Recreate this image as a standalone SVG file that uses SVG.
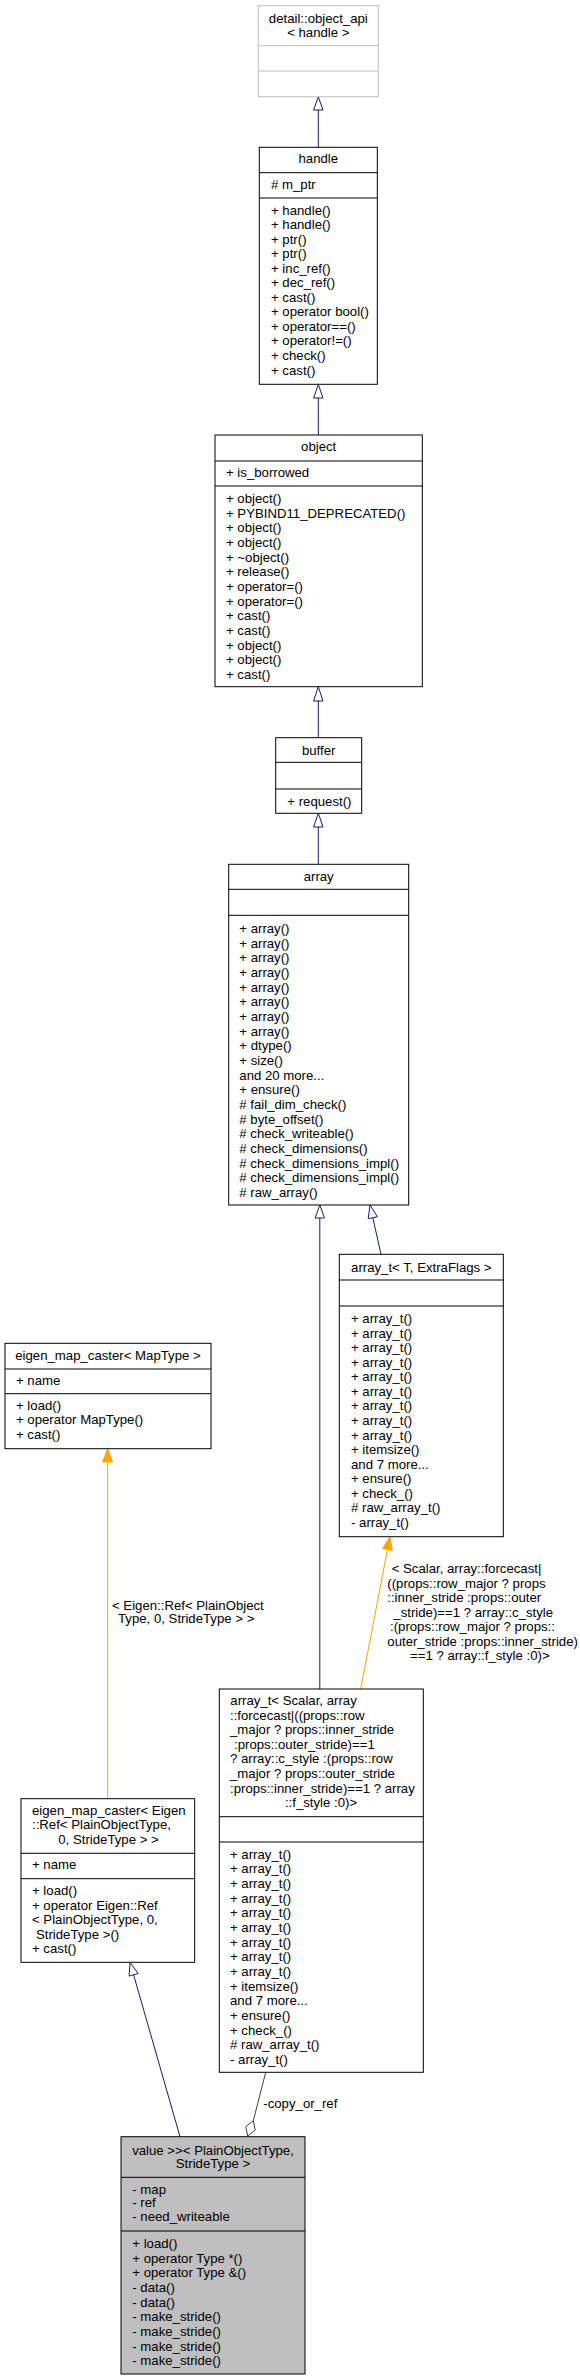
<svg xmlns="http://www.w3.org/2000/svg" width="580" height="2380" viewBox="0 0 580 2380">
<style>
text{font-family:"Liberation Sans",Arial,sans-serif;font-size:13.2px;fill:#000}
.box{fill:#fff;stroke:#000;stroke-width:1}
.gbox{fill:#fff;stroke:#bfbfbf;stroke-width:1}
.sel{fill:#bfbfbf;stroke:#000;stroke-width:1}
.div{stroke:#000;stroke-width:1}
.gdiv{stroke:#bfbfbf;stroke-width:1}
.mid{text-anchor:middle}
.inh{stroke:#191970;stroke-width:1;fill:none}
.inhh{fill:#fff;stroke:#191970;stroke-width:1}
.tpl{stroke:#ffa500;stroke-width:1;fill:none}
.tplh{fill:#ffa500;stroke:#ffa500;stroke-width:1}
.use{stroke:#404040;stroke-width:1;fill:none}
.useh{fill:#fff;stroke:#404040;stroke-width:1}
</style>
<rect width="580" height="2380" fill="#fff"/>

<g id="connectors">
  <line class="inh" x1="318.3" y1="110" x2="318.3" y2="147.3"/>
  <polygon class="inhh" points="318.3,96.7 313.6,110 323,110"/>
  <line class="inh" x1="318.3" y1="398" x2="318.3" y2="435"/>
  <polygon class="inhh" points="318.3,384.3 313.6,398 323,398"/>
  <line class="inh" x1="318.3" y1="701" x2="318.3" y2="737.7"/>
  <polygon class="inhh" points="318.3,686.7 313.6,701 323,701"/>
  <line class="inh" x1="318.3" y1="827" x2="318.3" y2="864.3"/>
  <polygon class="inhh" points="318.3,813.3 313.6,827 323,827"/>
  <line class="inh" x1="319.8" y1="1218" x2="319.8" y2="1689"/>
  <polygon class="inhh" points="319.8,1205 315.1,1218 324.5,1218"/>
  <line class="inh" x1="372.8" y1="1217.7" x2="381" y2="1254.3"/>
  <polygon class="inhh" points="370,1205 377.4,1216.7 368.2,1218.7"/>
  <line class="tpl" x1="387.5" y1="1549.5" x2="360.7" y2="1689"/>
  <polygon class="tplh" points="390,1536.7 392.4,1550.4 382.6,1548.5"/>
  <text x="391.7" y="1573">&lt; Scalar, array::forcecast|</text>
  <text x="387.3" y="1588">((props::row_major ? props</text>
  <text x="387.3" y="1602">::inner_stride :props::outer</text>
  <text x="393.3" y="1616.5">_stride)==1 ? array::c_style</text>
  <text x="390" y="1631">:(props::row_major ? props::</text>
  <text x="387.3" y="1645.5">outer_stride :props::inner_stride)</text>
  <text x="410" y="1660">==1 ? array::f_style :0)&gt;</text>
  <line class="tpl" x1="107.7" y1="1462" x2="107.7" y2="1798.7"/>
  <polygon class="tplh" points="107.7,1448.7 102.7,1462 112.7,1462"/>
  <text x="112" y="1609.5">&lt; Eigen::Ref&lt; PlainObject</text>
  <text x="118" y="1623">Type, 0, StrideType &gt; &gt;</text>
  <line class="inh" x1="133.6" y1="1974.8" x2="180" y2="2136.7"/>
  <polygon class="inhh" points="130,1962.3 138.1,1973.5 129.1,1976.1"/>
  <line class="use" x1="265.7" y1="2072.3" x2="253.3" y2="2120.7"/>
  <polygon class="useh" points="253.3,2120.7 255.2,2130.1 247.7,2136 245.8,2126.7"/>
  <text x="263.3" y="2107.8">-copy_or_ref</text>
</g>

<g id="object_api">
  <rect class="gbox" x="258.3" y="5.7" width="120" height="91"/>
  <line class="gdiv" x1="258.3" y1="45.7" x2="378.3" y2="45.7"/>
  <line class="gdiv" x1="258.3" y1="71" x2="378.3" y2="71"/>
  <text class="mid" x="318.3" y="23">detail::object_api</text>
  <text class="mid" x="318.3" y="37.3">&lt; handle &gt;</text>
</g>

<g id="handle">
  <rect class="box" x="259.3" y="147.3" width="118" height="237"/>
  <line class="div" x1="259.3" y1="172.7" x2="377.3" y2="172.7"/>
  <line class="div" x1="259.3" y1="198" x2="377.3" y2="198"/>
  <text class="mid" x="318.3" y="163">handle</text>
  <text x="271" y="189"># m_ptr</text>
  <text x="271" y="214.5">+ handle()<tspan x="271" dy="14.55">+ handle()</tspan><tspan x="271" dy="14.55">+ ptr()</tspan><tspan x="271" dy="14.55">+ ptr()</tspan><tspan x="271" dy="14.55">+ inc_ref()</tspan><tspan x="271" dy="14.55">+ dec_ref()</tspan><tspan x="271" dy="14.55">+ cast()</tspan><tspan x="271" dy="14.55">+ operator bool()</tspan><tspan x="271" dy="14.55">+ operator==()</tspan><tspan x="271" dy="14.55">+ operator!=()</tspan><tspan x="271" dy="14.55">+ check()</tspan><tspan x="271" dy="14.55">+ cast()</tspan></text>
</g>

<g id="object">
  <rect class="box" x="215" y="435" width="207.3" height="251.7"/>
  <line class="div" x1="215" y1="461" x2="422.3" y2="461"/>
  <line class="div" x1="215" y1="486" x2="422.3" y2="486"/>
  <text class="mid" x="318.7" y="451">object</text>
  <text x="226" y="477">+ is_borrowed</text>
  <text x="226" y="503">+ object()<tspan x="226" dy="14.67">+ PYBIND11_DEPRECATED()</tspan><tspan x="226" dy="14.67">+ object()</tspan><tspan x="226" dy="14.67">+ object()</tspan><tspan x="226" dy="14.67">+ ~object()</tspan><tspan x="226" dy="14.67">+ release()</tspan><tspan x="226" dy="14.67">+ operator=()</tspan><tspan x="226" dy="14.67">+ operator=()</tspan><tspan x="226" dy="14.67">+ cast()</tspan><tspan x="226" dy="14.67">+ cast()</tspan><tspan x="226" dy="14.67">+ object()</tspan><tspan x="226" dy="14.67">+ object()</tspan><tspan x="226" dy="14.67">+ cast()</tspan></text>
</g>

<g id="buffer">
  <rect class="box" x="275.7" y="737.7" width="86" height="75.6"/>
  <line class="div" x1="275.7" y1="762.3" x2="361.7" y2="762.3"/>
  <line class="div" x1="275.7" y1="789" x2="361.7" y2="789"/>
  <text class="mid" x="318.7" y="754.5">buffer</text>
  <text x="287.3" y="805.5">+ request()</text>
</g>

<g id="array">
  <rect class="box" x="228.7" y="864.3" width="180" height="340.7"/>
  <line class="div" x1="228.7" y1="889.3" x2="408.7" y2="889.3"/>
  <line class="div" x1="228.7" y1="915.3" x2="408.7" y2="915.3"/>
  <text class="mid" x="318.7" y="881">array</text>
  <text x="239.3" y="933">+ array()<tspan x="239.3" dy="14.67">+ array()</tspan><tspan x="239.3" dy="14.67">+ array()</tspan><tspan x="239.3" dy="14.67">+ array()</tspan><tspan x="239.3" dy="14.67">+ array()</tspan><tspan x="239.3" dy="14.67">+ array()</tspan><tspan x="239.3" dy="14.67">+ array()</tspan><tspan x="239.3" dy="14.67">+ array()</tspan><tspan x="239.3" dy="14.67">+ dtype()</tspan><tspan x="239.3" dy="14.67">+ size()</tspan><tspan x="239.3" dy="14.67">and 20 more...</tspan><tspan x="239.3" dy="14.67">+ ensure()</tspan><tspan x="239.3" dy="14.67"># fail_dim_check()</tspan><tspan x="239.3" dy="14.67"># byte_offset()</tspan><tspan x="239.3" dy="14.67"># check_writeable()</tspan><tspan x="239.3" dy="14.67"># check_dimensions()</tspan><tspan x="239.3" dy="14.67"># check_dimensions_impl()</tspan><tspan x="239.3" dy="14.67"># check_dimensions_impl()</tspan><tspan x="239.3" dy="14.67"># raw_array()</tspan></text>
</g>

<g id="array_t_T">
  <rect class="box" x="339.3" y="1254.3" width="164" height="282.4"/>
  <line class="div" x1="339.3" y1="1280" x2="503.3" y2="1280"/>
  <line class="div" x1="339.3" y1="1306" x2="503.3" y2="1306"/>
  <text class="mid" x="421.3" y="1272">array_t&lt; T, ExtraFlags &gt;</text>
  <text x="351" y="1323">+ array_t()<tspan x="351" dy="14.57">+ array_t()</tspan><tspan x="351" dy="14.57">+ array_t()</tspan><tspan x="351" dy="14.57">+ array_t()</tspan><tspan x="351" dy="14.57">+ array_t()</tspan><tspan x="351" dy="14.57">+ array_t()</tspan><tspan x="351" dy="14.57">+ array_t()</tspan><tspan x="351" dy="14.57">+ array_t()</tspan><tspan x="351" dy="14.57">+ array_t()</tspan><tspan x="351" dy="14.57">+ itemsize()</tspan><tspan x="351" dy="14.57">and 7 more...</tspan><tspan x="351" dy="14.57">+ ensure()</tspan><tspan x="351" dy="14.57">+ check_()</tspan><tspan x="351" dy="14.57"># raw_array_t()</tspan><tspan x="351" dy="14.57">- array_t()</tspan></text>
</g>

<g id="eigen_map_caster_MapType">
  <rect class="box" x="5" y="1343.3" width="206" height="105.4"/>
  <line class="div" x1="5" y1="1369" x2="211" y2="1369"/>
  <line class="div" x1="5" y1="1393.7" x2="211" y2="1393.7"/>
  <text class="mid" x="108" y="1359.5">eigen_map_caster&lt; MapType &gt;</text>
  <text x="16" y="1385.2">+ name</text>
  <text x="16" y="1409.5">+ load()<tspan x="16" dy="14.67">+ operator MapType()</tspan><tspan x="16" dy="14.67">+ cast()</tspan></text>
</g>

<g id="array_t_Scalar">
  <rect class="box" x="219.3" y="1689" width="204" height="383.3"/>
  <line class="div" x1="219.3" y1="1816.7" x2="423.3" y2="1816.7"/>
  <line class="div" x1="219.3" y1="1842" x2="423.3" y2="1842"/>
  <text x="230.3" y="1705.2">array_t&lt; Scalar, array</text>
  <text x="230" y="1719.5">::forcecast|((props::row</text>
  <text x="230" y="1733.8">_major ? props::inner_stride</text>
  <text x="234" y="1748.5">:props::outer_stride)==1</text>
  <text x="230" y="1763.3">? array::c_style :(props::row</text>
  <text x="230" y="1777.8">_major ? props::outer_stride</text>
  <text x="230" y="1792.6">:props::inner_stride)==1 ? array</text>
  <text class="mid" x="321" y="1807.2">::f_style :0)&gt;</text>
  <text x="230" y="1858.5">+ array_t()<tspan x="230" dy="14.67">+ array_t()</tspan><tspan x="230" dy="14.67">+ array_t()</tspan><tspan x="230" dy="14.67">+ array_t()</tspan><tspan x="230" dy="14.67">+ array_t()</tspan><tspan x="230" dy="14.67">+ array_t()</tspan><tspan x="230" dy="14.67">+ array_t()</tspan><tspan x="230" dy="14.67">+ array_t()</tspan><tspan x="230" dy="14.67">+ array_t()</tspan><tspan x="230" dy="14.67">+ itemsize()</tspan><tspan x="230" dy="14.67">and 7 more...</tspan><tspan x="230" dy="14.67">+ ensure()</tspan><tspan x="230" dy="14.67">+ check_()</tspan><tspan x="230" dy="14.67"># raw_array_t()</tspan><tspan x="230" dy="14.67">- array_t()</tspan></text>
</g>

<g id="eigen_map_caster_Ref">
  <rect class="box" x="21" y="1798.7" width="173.7" height="163.6"/>
  <line class="div" x1="21" y1="1853.3" x2="194.7" y2="1853.3"/>
  <line class="div" x1="21" y1="1878.7" x2="194.7" y2="1878.7"/>
  <text x="32" y="1814.5">eigen_map_caster&lt; Eigen</text>
  <text x="32" y="1828.8">::Ref&lt; PlainObjectType,</text>
  <text class="mid" x="108.5" y="1843.5">0, StrideType &gt; &gt;</text>
  <text x="32" y="1869.2">+ name</text>
  <text x="32" y="1895.2">+ load()<tspan x="32" dy="14.5">+ operator Eigen::Ref</tspan><tspan x="32" dy="14.5">&lt; PlainObjectType, 0,</tspan><tspan x="36" dy="14.5">StrideType &gt;()</tspan><tspan x="32" dy="14.5">+ cast()</tspan></text>
</g>

<g id="value_caster">
  <rect class="sel" x="121" y="2136.7" width="184" height="237.3"/>
  <line class="div" x1="121" y1="2177.3" x2="305" y2="2177.3"/>
  <line class="div" x1="121" y1="2231" x2="305" y2="2231"/>
  <text class="mid" x="213" y="2154.5">value &gt;&gt;&lt; PlainObjectType,</text>
  <text class="mid" x="213" y="2167.5">StrideType &gt;</text>
  <text x="132.3" y="2193.5">- map<tspan x="132.3" dy="13.9">- ref</tspan><tspan x="132.3" dy="13.9">- need_writeable</tspan></text>
  <text x="132.3" y="2247.8">+ load()<tspan x="132.3" dy="14.7">+ operator Type *()</tspan><tspan x="132.3" dy="14.7">+ operator Type &amp;()</tspan><tspan x="132.3" dy="14.7">- data()</tspan><tspan x="132.3" dy="14.7">- data()</tspan><tspan x="132.3" dy="14.7">- make_stride()</tspan><tspan x="132.3" dy="14.7">- make_stride()</tspan><tspan x="132.3" dy="14.7">- make_stride()</tspan><tspan x="132.3" dy="14.7">- make_stride()</tspan></text>
</g>
</svg>
